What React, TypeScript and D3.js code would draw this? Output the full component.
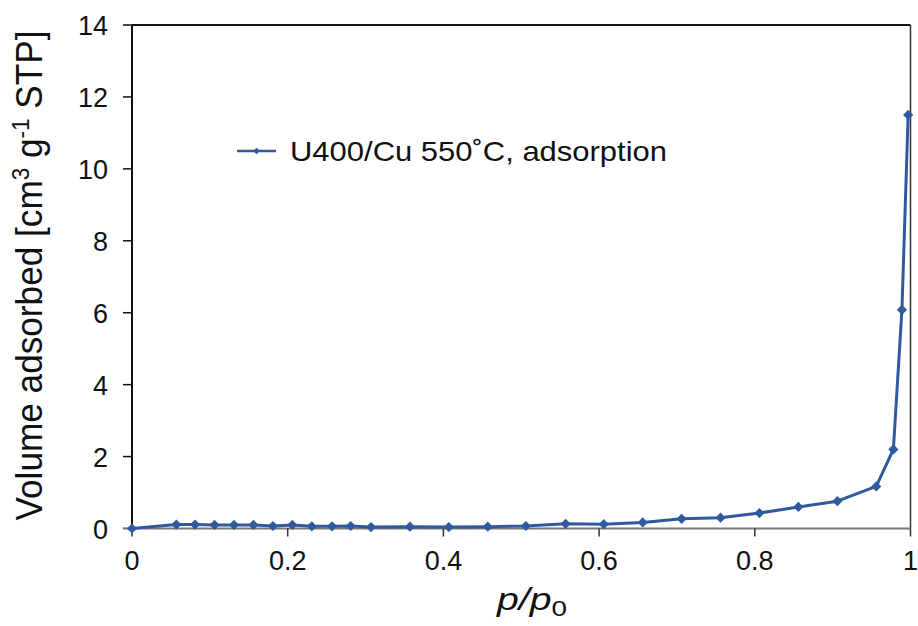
import React from "react";
import * as d3 from "d3";

const pressures = [0, 0.057, 0.081, 0.106, 0.131, 0.156, 0.181, 0.206, 0.231, 0.257, 0.281, 0.307, 0.357, 0.407, 0.457, 0.506, 0.557, 0.606, 0.656, 0.706, 0.756, 0.806, 0.856, 0.906, 0.956, 0.978, 0.989, 0.997];
const volumes = [0, 0.11, 0.11, 0.1, 0.1, 0.1, 0.07, 0.1, 0.06, 0.06, 0.07, 0.04, 0.05, 0.04, 0.05, 0.07, 0.13, 0.12, 0.17, 0.27, 0.3, 0.43, 0.6, 0.76, 1.17, 2.2, 6.08, 11.5];
const xTicks = [0, 0.2, 0.4, 0.6, 0.8, 1];
const yTicks = [0, 2, 4, 6, 8, 10, 12, 14];
const seriesName = "U400/Cu 550˚C, adsorption";

const W = 918;
const H = 626;
const left = 132;
const right = 910.5;
const top = 25;
const bottom = 528.5;
const color = "#2F5A9E";
const font = "Liberation Sans, Arial, sans-serif";

export default function App() {
  const x = d3.scaleLinear().domain([0, 1]).range([left, right]);
  const y = d3.scaleLinear().domain([0, 14]).range([bottom, top]);
  const data = pressures.map((p, i) => ({ p, v: volumes[i] }));
  const line = d3.line<{ p: number; v: number }>().x((d) => x(d.p)).y((d) => y(d.v));
  const marker = d3.symbol().type(d3.symbolSquare).size(52)() as string;
  const legendMarker = d3.symbol().type(d3.symbolSquare).size(22)() as string;

  return (
    <svg width={W} height={H} style={{ position: "absolute", left: 0, top: 0, background: "#fff" }}>
      <rect x={0} y={0} width={W} height={H} fill="#fff" />
      {/* frame */}
      <line x1={left} x2={right} y1={top} y2={top} stroke="#111" strokeWidth={2} />
      <line x1={right} x2={right} y1={top} y2={bottom} stroke="#333" strokeWidth={1.5} />
      <line x1={left} x2={left} y1={top} y2={bottom} stroke="#111" strokeWidth={2} />
      {/* y ticks */}
      {yTicks.map((t) => (
        <g key={"y" + t}>
          <line x1={left - 9} x2={left} y1={y(t)} y2={y(t)} stroke={t === 0 ? "#777" : "#111"} strokeWidth={1.5} />
          <text x={left - 24} y={y(t) + 10} textAnchor="end" fontFamily={font} fontSize={27} fill="#111">
            {t}
          </text>
        </g>
      ))}
      {/* x axis */}
      <line x1={left - 9} x2={right} y1={bottom} y2={bottom} stroke="#777" strokeWidth={2} />
      {xTicks.map((t) => (
        <g key={"x" + t}>
          <line x1={x(t)} x2={x(t)} y1={bottom} y2={bottom + 8} stroke="#333" strokeWidth={1.5} />
          <text x={x(t)} y={570} textAnchor="middle" fontFamily={font} fontSize={27} fill="#111">
            {t}
          </text>
        </g>
      ))}
      {/* axis titles */}
      <text x={497} y={610} fontFamily={font} fontSize={31} fill="#111" textLength={70} lengthAdjust="spacingAndGlyphs">
        <tspan fontStyle="italic">p</tspan>
        <tspan fontStyle="italic">/p</tspan>
        <tspan fontSize={22} dy={6}>0</tspan>
      </text>
      <text transform={`translate(42, 275.5) rotate(-90)`} textAnchor="middle" fontFamily={font} fontSize={36} fill="#111" textLength={490} lengthAdjust="spacingAndGlyphs">
        <tspan>Volume adsorbed [cm</tspan>
        <tspan fontSize={23} dy={-13}>3</tspan>
        <tspan dy={13}> g</tspan>
        <tspan fontSize={23} dy={-13}>-1</tspan>
        <tspan dy={13}> STP]</tspan>
      </text>
      {/* series */}
      <path d={line(data) as string} fill="none" stroke={color} strokeWidth={3} strokeLinejoin="round" />
      {data.map((d, i) => (
        <path key={i} d={marker} transform={`translate(${x(d.p)},${y(d.v)}) rotate(45)`} fill={color} />
      ))}
      {/* legend */}
      <line x1={237} x2={276} y1={151} y2={151} stroke={color} strokeWidth={2.5} />
      <path d={legendMarker} transform="translate(256.5,151) rotate(45)" fill={color} />
      <text x={290} y={161} fontFamily={font} fontSize={28} fill="#111" textLength={377} lengthAdjust="spacingAndGlyphs">
        {seriesName}
      </text>
    </svg>
  );
}
